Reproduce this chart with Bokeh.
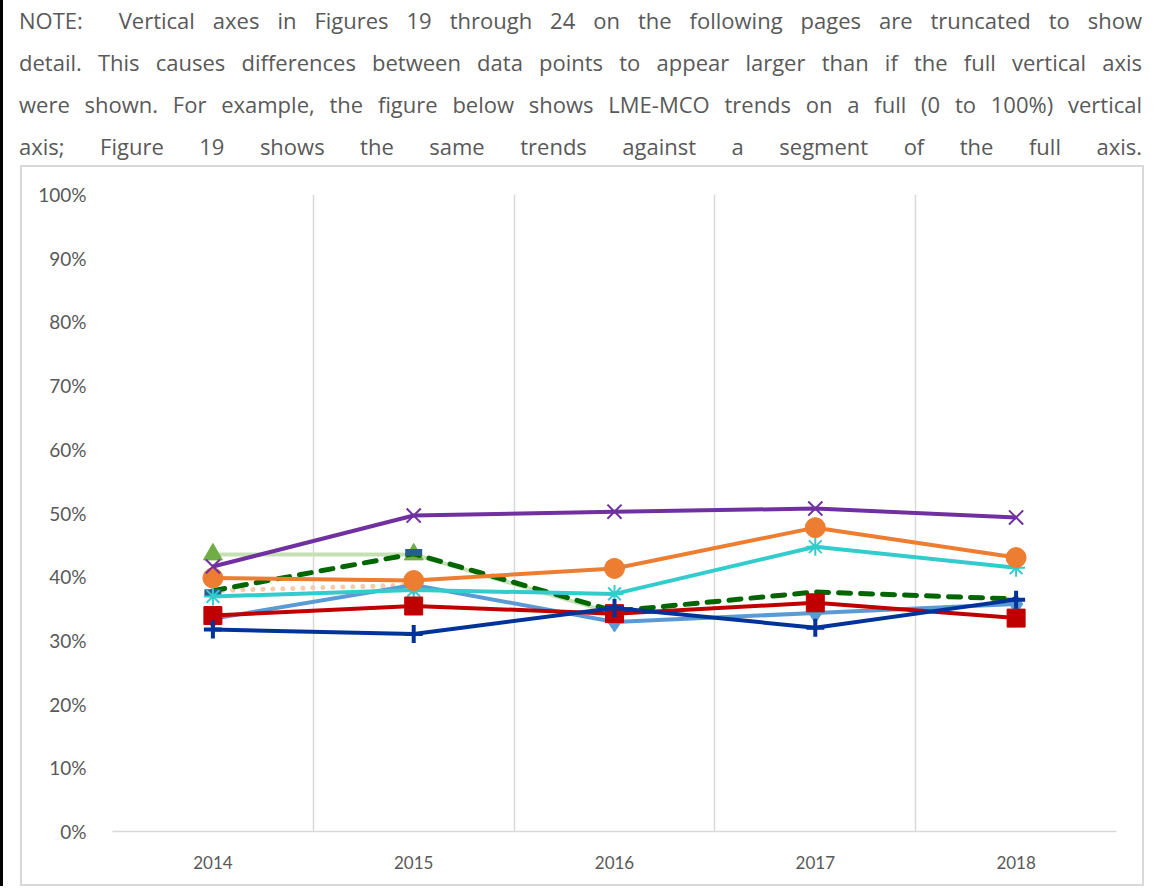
from bokeh.plotting import figure
from bokeh.models import (Range1d, FixedTicker, NumeralTickFormatter, Div, Spacer)
from bokeh.layouts import column, row
from bokeh.embed import file_html
from bokeh.resources import INLINE
import numpy as np

years = ["2014", "2015", "2016", "2017", "2018"]
y_ticks = [0.0, 0.1, 0.2, 0.3, 0.4, 0.5, 0.6, 0.7, 0.8, 0.9, 1.0]

light_green = [0.435, 0.435, 0.342, None, None]
peach_dotted = [0.378, 0.387, None, None, None]
green_dashed = [0.378, 0.436, 0.346, 0.376, 0.365]
dash_marks = [0.375, 0.438, 0.343, None, None]
light_blue = [0.334, 0.387, 0.329, 0.343, 0.357]
cyan = [0.369, 0.379, 0.373, 0.447, 0.414]
orange = [0.398, 0.394, 0.413, 0.477, 0.430]
red = [0.339, 0.354, 0.342, 0.359, 0.335]
purple = [0.416, 0.496, 0.502, 0.507, 0.493]
dark_blue = [0.317, 0.310, 0.351, 0.320, 0.364]

note_lines = [
    "NOTE:&nbsp; Vertical axes in Figures 19 through 24 on the following pages are truncated to show",
    "detail. This causes differences between data points to appear larger than if the full vertical axis",
    "were shown. For example, the figure below shows LME-MCO trends on a full (0 to 100%) vertical",
    "axis; Figure 19 shows the same trends against a segment of the full axis.",
]

inner = "".join(
    f'<div style="text-align:justify;text-align-last:justify;white-space:nowrap;">{ln}</div>'
    for ln in note_lines
)
html = (f'<div style="font-family:\'Open Sans\';font-size:22px;color:#595959;line-height:42px;'
        f'margin-top:-6px;padding:0 2px 0 11px;width:1136px;">{inner}</div>')
div = Div(text=html, width=1149, height=155)

xs = [i + 0.5 for i in range(len(years))]

def arr(v):
    return np.array([np.nan if a is None else a for a in v], dtype=float)

p = figure(frame_width=1000, frame_height=633, min_border_left=90, min_border_right=30,
           min_border_top=27, min_border_bottom=57,
           x_range=Range1d(0, len(years)), y_range=Range1d(0, 1),
           output_backend="svg", toolbar_location=None)
p.styles = {"border": "2px solid #D9D9D9"}
p.outline_line_color = None
p.background_fill_color = "white"
p.border_fill_color = "white"

p.xgrid.ticker = FixedTicker(ticks=list(range(len(years) + 1)))
p.xgrid.grid_line_color = "#D9D9D9"
p.xgrid.grid_line_width = 1.5
p.ygrid.grid_line_color = None

p.xaxis.ticker = FixedTicker(ticks=xs)
p.xaxis.major_label_overrides = {x: y for x, y in zip(xs, years)}
p.xaxis.axis_line_color = "#D9D9D9"
p.xaxis.axis_line_width = 1.5
p.xaxis.major_tick_line_color = None
p.xaxis.minor_tick_line_color = None
p.xaxis.major_label_standoff = 18
p.xaxis.major_label_text_font = "Lato"
p.xaxis.major_label_text_font_size = "17px"
p.xaxis.major_label_text_color = "#595959"

p.yaxis.ticker = FixedTicker(ticks=y_ticks)
p.yaxis.formatter = NumeralTickFormatter(format="0%")
p.yaxis.axis_line_color = None
p.yaxis.major_tick_line_color = None
p.yaxis.minor_tick_line_color = None
p.yaxis.major_label_standoff = 20
p.yaxis.major_label_text_font = "Lato"
p.yaxis.major_label_text_font_size = "19px"
p.yaxis.major_label_text_color = "#595959"

# light green with triangles
p.line(xs, arr(light_green), line_color="#C5E0B4", line_width=4)
p.scatter(xs, arr(light_green), marker="triangle", size=19, fill_color="#70AD47", line_color="#70AD47")
# peach dotted
p.line(xs, arr(peach_dotted), line_color="#F8CBAD", line_width=5, line_dash="0 10", line_cap="round")
# light blue diamonds
p.line(xs, arr(light_blue), line_color="#5B9BD5", line_width=4)
p.scatter(xs, arr(light_blue), marker="diamond", size=20, fill_color="#5B9BD5", line_color="#5B9BD5")
# green dashed
p.line(xs, arr(green_dashed), line_color="#006600", line_width=5, line_dash="12 10", line_cap="round")
p.scatter(xs, arr(dash_marks), marker="dash", size=17, line_color="#255E91", line_width=7)
# cyan asterisks
p.line(xs, arr(cyan), line_color="#33CCCC", line_width=4)
p.scatter(xs, arr(cyan), marker="asterisk", size=18, line_color="#33CCCC", line_width=2)
# orange circles
p.line(xs, arr(orange), line_color="#ED7D31", line_width=4)
p.scatter(xs, arr(orange), marker="circle", size=20, fill_color="#ED7D31", line_color="#ED7D31")
# red squares
p.line(xs, arr(red), line_color="#C00000", line_width=4)
p.scatter(xs, arr(red), marker="square", size=18, fill_color="#C00000", line_color="#C00000")
# purple x
p.line(xs, arr(purple), line_color="#7030A0", line_width=4)
p.scatter(xs, arr(purple), marker="x", size=20, line_color="#7030A0", line_width=2)
# dark blue cross
p.line(xs, arr(dark_blue), line_color="#003399", line_width=4)
p.scatter(xs, arr(dark_blue), marker="cross", size=18, line_color="#003399", line_width=4)

layout = column(div, row(Spacer(width=17, height=10), p), styles={"border-left": "3px solid black"})
open("out.html", "w").write(file_html(layout, INLINE))
